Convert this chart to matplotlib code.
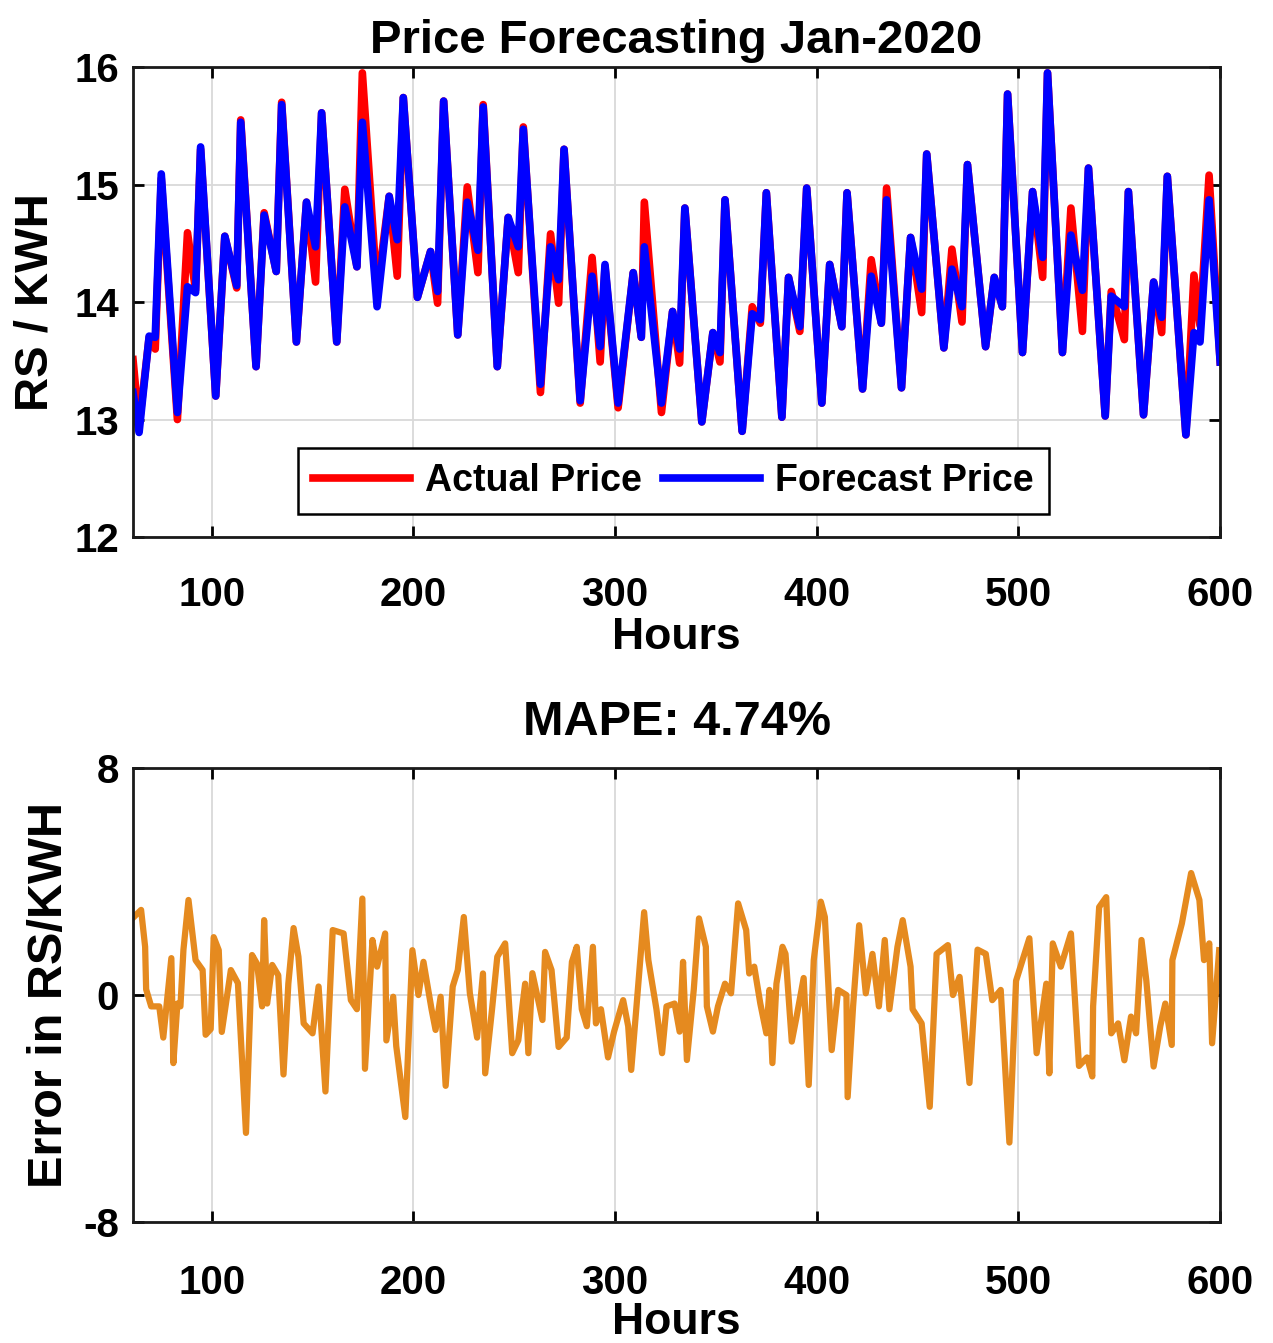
import matplotlib
matplotlib.use("Agg")
import matplotlib.pyplot as plt
import numpy as np

plt.rcParams['font.family'] = ['Liberation Sans', 'DejaVu Sans']
plt.rcParams['font.weight'] = 'bold'
plt.rcParams['axes.unicode_minus'] = False

# ---------------- data ----------------
hours = [61, 64, 69, 72, 75, 83, 88, 92, 94.5, 102, 106.5, 112.4, 114.4, 122, 126, 132,
         134.7, 142, 147, 151.5, 154.5, 162, 166, 172, 174.7, 182, 188, 192, 195, 202,
         208.5, 212, 215, 222, 226.7, 232, 234.6, 241.6, 247, 252, 254.5, 263, 268, 272,
         274.7, 282.7, 288.6, 292.6, 295, 301.5, 309, 313, 314.5, 323, 328.5, 332, 334.6,
         343, 348.5, 352, 354.5, 363, 368, 372, 375, 382.7, 386, 391.6, 395, 402.5, 406.4,
         412.4, 415, 422.7, 427, 432, 434.6, 442, 446.5, 452, 454.5, 463, 467, 472, 474.7,
         483.7, 488, 492, 494.6, 502, 507, 512, 514.4, 521.8, 526, 531.7, 534.7, 543, 546,
         552.5, 554.5, 562, 567, 571, 573.8, 583, 587, 590, 594.5, 600]
actual_price = [13.51, 12.95, 13.70, 13.60, 15.05, 13.00, 14.59, 14.10, 15.30, 13.20, 14.56, 14.12,
                15.55, 13.45, 14.76, 14.26, 15.70, 13.66, 14.85, 14.17, 15.61, 13.66, 14.96, 14.30,
                15.95, 14.09, 14.90, 14.22, 15.74, 14.04, 14.43, 13.99, 15.71, 13.72, 14.98, 14.25,
                15.68, 13.45, 14.72, 14.25, 15.49, 13.23, 14.58, 13.99, 15.30, 13.14, 14.38, 13.49,
                14.30, 13.10, 14.25, 13.70, 14.85, 13.06, 13.92, 13.48, 14.80, 12.98, 13.74, 13.49,
                14.87, 12.90, 13.96, 13.82, 14.93, 13.02, 14.21, 13.75, 14.97, 13.14, 14.32, 13.79,
                14.93, 13.26, 14.36, 13.82, 14.97, 13.27, 14.55, 13.91, 15.26, 13.61, 14.45, 13.83,
                15.17, 13.62, 14.21, 13.96, 15.77, 13.57, 14.94, 14.21, 15.95, 13.57, 14.80, 13.75,
                15.14, 13.03, 14.09, 13.68, 14.94, 13.04, 14.17, 13.74, 15.07, 12.87, 14.23, 13.80,
                15.08, 13.49]
forecast_price = [13.23, 12.89, 13.71, 13.70, 15.09, 13.06, 14.13, 14.08, 15.32, 13.20, 14.56, 14.14,
                  15.53, 13.45, 14.74, 14.26, 15.68, 13.66, 14.85, 14.47, 15.61, 13.66, 14.81, 14.30,
                  15.53, 13.96, 14.90, 14.53, 15.74, 14.04, 14.43, 14.09, 15.71, 13.72, 14.85, 14.44,
                  15.66, 13.45, 14.72, 14.47, 15.47, 13.30, 14.47, 14.19, 15.30, 13.16, 14.22, 13.62,
                  14.32, 13.14, 14.25, 13.70, 14.47, 13.14, 13.92, 13.60, 14.80, 12.98, 13.74, 13.57,
                  14.87, 12.90, 13.90, 13.85, 14.93, 13.02, 14.21, 13.79, 14.97, 13.14, 14.32, 13.79,
                  14.93, 13.26, 14.22, 13.82, 14.87, 13.27, 14.55, 14.11, 15.26, 13.61, 14.28, 13.96,
                  15.17, 13.62, 14.21, 13.96, 15.77, 13.57, 14.94, 14.38, 15.95, 13.57, 14.57, 14.10,
                  15.14, 13.03, 14.05, 13.96, 14.94, 13.04, 14.17, 13.87, 15.07, 12.87, 13.74, 13.66,
                  14.87, 13.49]

err_hours = [61.4, 65, 67, 67.5, 70, 74, 76, 80, 81, 83, 84.5, 86, 88.5, 92, 95.5, 97, 99.5, 101,
             103.5, 105, 109.5, 113, 117, 120, 122.5, 125, 126, 127.5, 130, 133, 135.6, 138, 140.6,
             143, 145.6, 150, 153, 156.4, 160, 165.4, 169, 172, 174.7, 176, 179.7, 182, 186, 186.6,
             190, 191.5, 196, 199.5, 202.5, 205, 209, 211, 213.5, 216, 219.5, 222, 225, 228, 231.6,
             234.5, 235.6, 239, 241.6, 245.5, 249, 252, 255.4, 257, 259, 264, 265.3, 268.5, 272,
             276, 278.6, 281, 283.5, 286, 289, 290.5, 293, 296.5, 299.5, 304, 306.5, 308, 310.5,
             314.4, 316.5, 320.5, 323.3, 325.5, 329.5, 332, 333.7, 335.6, 339, 341.6, 345, 345.5,
             348.5, 351, 354.5, 357.5, 361, 365, 366.5, 369, 372, 375, 376.5, 378, 380, 383, 384.5,
             387.6, 390, 393.5, 396, 398.5, 402, 404, 407.4, 410.6, 414.7, 415.3, 418, 421, 424.3,
             427.6, 430.8, 433.7, 436, 440, 442.6, 446.5, 447.5, 452, 456, 459.4, 465, 467.5, 470.8,
             475.7, 479.7, 483.8, 487, 491.2, 495.5, 498.8, 505.4, 509, 513.8, 515.3, 517, 521,
             526, 530, 534, 536.6, 537, 540, 543.5, 546, 549.4, 552.5, 555.8, 558.3, 561, 563.4,
             567, 570.3, 572.8, 576, 576.3, 581, 585.6, 589.7, 592, 594.6, 596, 599.5]
err_values = [2.75, 3.0, 1.7, 0.2, -0.4, -0.4, -1.5, 1.3, -2.4, -0.3, -0.4, 1.6, 3.35, 1.23, 0.88,
              -1.4, -1.2, 2.04, 1.58, -1.3, 0.88, 0.42, -4.86, 1.41, 1.1, -0.4, 2.64, -0.3, 1.06,
              0.7, -2.8, 0.4, 2.36, 1.35, -1.0, -1.35, 0.3, -3.4, 2.29, 2.17, -0.18, -0.5, 3.4,
              -2.6, 1.94, 1.0, 2.17, -1.6, -0.06, -1.8, -4.3, 1.58, 0.0, 1.17, -0.5, -1.23, -0.06,
              -3.2, 0.3, 0.88, 2.75, 0.06, -1.5, 0.76, -2.76, -0.5, 1.35, 1.82, -2.05, -1.6, 0.4,
              -2.05, 0.77, -0.88, 1.52, 0.88, -1.83, -1.5, 1.17, 1.7, -0.5, -1.1, 1.7, -1.0, -0.5,
              -2.2, -1.29, -0.18, -1.1, -2.64, -0.5, 2.92, 1.23, -0.5, -2.05, -0.4, -0.3, -1.29,
              1.17, -2.29, 0.18, 2.7, 1.7, -0.4, -1.29, -0.4, 0.4, 0.06, 3.23, 2.29, 0.76, 1.0,
              -0.3, -1.35, 0.18, -2.4, 0.4, 1.7, 1.45, -1.64, -0.76, 0.6, -3.17, 1.23, 3.29, 2.75,
              -1.94, 0.18, 0.0, -3.6, -0.4, 2.46, 0.06, 1.45, -0.4, 1.94, -0.5, 1.7, 2.64, 1.0,
              -0.5, -1.0, -3.94, 1.45, 1.76, 0.0, 0.64, -3.1, 1.6, 1.45, -0.18, 0.18, -5.2, 0.5,
              2.0, -2.05, 0.4, -2.76, 1.82, 1.0, 2.17, -2.5, -2.2, -2.87, -0.4, 3.1, 3.45, -1.35,
              -1.0, -2.3, -0.76, -1.35, 1.94, 0.5, -2.52, -1.1, -0.3, -1.76, 1.23, 2.52, 4.3, 3.35,
              1.23, 1.82, -1.7, 1.58]

x_ticks = [100, 200, 300, 400, 500, 600]
price_ticks = [12, 13, 14, 15, 16]
err_ticks = [-8, 0, 8]

# ---------------- figure ----------------
fig = plt.figure(figsize=(12.73, 13.43), dpi=100)
ax1 = fig.add_axes([0.1045, 0.6001, 0.854, 0.35])
ax2 = fig.add_axes([0.1045, 0.0901, 0.854, 0.338])

FS = 29

def style(ax, xpad):
    ax.grid(True, color='#d9d9d9', linewidth=1.3)
    ax.set_axisbelow(True)
    ax.tick_params(direction='in', top=True, right=True, length=8, width=2,
                   labelsize=FS)
    ax.tick_params(axis='x', pad=xpad)
    ax.tick_params(axis='y', pad=10)
    for s in ax.spines.values():
        s.set_linewidth(2)
        s.set_color('#1a1a1a')
    for lab in ax.get_xticklabels() + ax.get_yticklabels():
        lab.set_fontweight('bold')

ax1.plot(hours, actual_price, color='red', linewidth=5.5, label='Actual Price',
         solid_joinstyle='round')
ax1.plot(hours, forecast_price, color='blue', linewidth=5.5, label='Forecast Price',
         solid_joinstyle='round')
ax1.set_xlim(61, 600)
ax1.set_ylim(12, 16)
ax1.set_xticks(x_ticks)
ax1.set_yticks(price_ticks)
style(ax1, 28)
ax1.set_title('Price Forecasting Jan-2020', fontsize=34, fontweight='bold', pad=10)
ax1.set_xlabel('Hours', fontsize=32, fontweight='bold', labelpad=2)
ax1.set_ylabel('RS / KWH', fontsize=34, fontweight='bold', labelpad=12)
leg = ax1.legend(loc='center', bbox_to_anchor=(0.497, 0.119), ncol=2, fontsize=27,
                 handlelength=2.6, columnspacing=0.55, handletextpad=0.4,
                 fancybox=False, framealpha=1, edgecolor='black', borderpad=0.4,
                 borderaxespad=0)
leg.get_frame().set_linewidth(1.8)
for t in leg.get_texts():
    t.set_fontweight('bold')

ax2.plot(err_hours, err_values, color='#E58A1F', linewidth=4.5, solid_joinstyle='round')
ax2.set_xlim(61, 600)
ax2.set_ylim(-8, 8)
ax2.set_xticks(x_ticks)
ax2.set_yticks(err_ticks)
style(ax2, 30)
ax2.set_title('MAPE: 4.74%', fontsize=35, fontweight='bold', pad=24)
ax2.set_xlabel('Hours', fontsize=32, fontweight='bold', labelpad=0)
ax2.set_ylabel('Error in RS/KWH', fontsize=35, fontweight='bold', labelpad=8)

fig.savefig('out.png', dpi=100)
